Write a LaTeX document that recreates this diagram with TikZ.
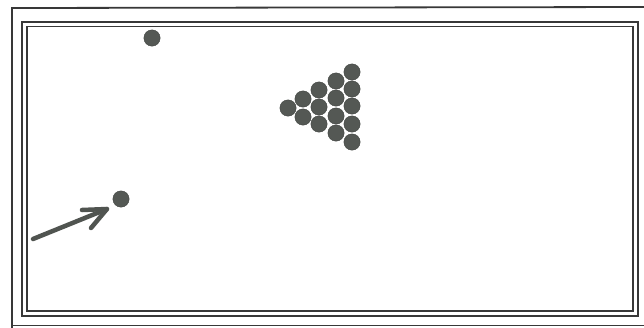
\documentclass[tikz,border=0pt]{standalone}
\begin{document}
\begin{tikzpicture}[x=1pt,y=-1pt,
  frameline/.style={draw=black!78,line width=1.5pt},
  ball/.style={circle,fill=ballc,draw=ballc!80!black,line width=0.4pt,minimum size=16.3pt,inner sep=0pt},
  cue/.style={draw=ballc!95!black,line width=4.5pt,line cap=round,line join=round}]
\definecolor{ballc}{RGB}{84,88,84}
\useasboundingbox (0,0) rectangle (644,327);
\fill[white] (0,0) rectangle (644,327);
% outer frame line
\draw[frameline,line width=1.8pt] (12,330) -- (12,8) -- (648,7);
\draw[frameline,line width=1.2pt] (12,325.5) -- (648,325.5);
% double inner frame
\draw[frameline] (22,22) rectangle (638,316);
\draw[frameline] (27,26.5) rectangle (633,311);
% balls
\node[ball] (top) at (152,38) {};
\node[ball] (target) at (121,199) {};
\node[ball] (r1) at (288,108) {};
\node[ball] (r2a) at (303,99) {};
\node[ball] (r2b) at (303,117) {};
\node[ball] (r3a) at (319,90) {};
\node[ball] (r3b) at (319,107) {};
\node[ball] (r3c) at (319,124) {};
\node[ball] (r4a) at (336,81) {};
\node[ball] (r4b) at (336,98) {};
\node[ball] (r4c) at (336,116) {};
\node[ball] (r4d) at (336,133) {};
\node[ball] (r5a) at (352,72) {};
\node[ball] (r5b) at (352,89) {};
\node[ball] (r5c) at (352,106) {};
\node[ball] (r5d) at (352,124) {};
\node[ball] (r5e) at (352,142) {};
% arrow
\coordinate (tail) at (33,239);
\coordinate (tip) at (107,209);
\coordinate (arm1) at (82,210);
\coordinate (arm2) at (91,228);
\draw[cue] (tail) -- (tip);
\draw[cue] (arm1) -- (tip) -- (arm2);
\end{tikzpicture}
\end{document}
